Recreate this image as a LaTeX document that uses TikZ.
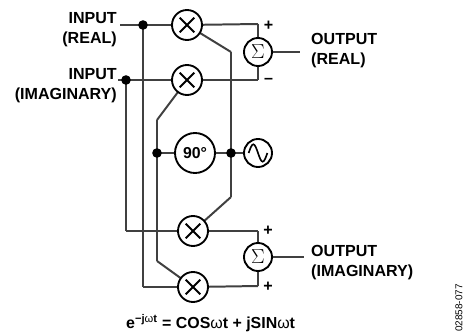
\documentclass[tikz,border=0pt]{standalone}
\usepackage{fontspec}
\usepackage{tikz}
\usepackage{tikz-network}
\setmainfont{Liberation Sans}
\newcommand{\sumsign}{\fontsize{17}{17}\selectfont$\Sigma$}
\tikzset{
	lbl/.style={font=\bfseries\fontsize{13.7}{17.3}\selectfont, align=center, inner sep=0pt},
	blob/.style={fill=white, draw=black, line width=1.6pt},
	mixer/.style={blob, path picture={\draw[line width=1.6pt] (path picture bounding box.center) ++(-0.22,-0.22) -- ++(0.44,0.44) ++(-0.44,0) -- ++(0.44,-0.44);}},
	wave/.style={blob, path picture={\draw[line width=1.4pt] (path picture bounding box.center) ++(-0.28,0) sin ++(0.14,0.26) cos ++(0.14,-0.26) sin ++(0.14,-0.26) cos ++(0.14,0.26);}}
}
\begin{document}
\begin{tikzpicture}
	\useasboundingbox (0,0) rectangle (13.95,9.93);

	\Vertex[x=5.61, y=9.18, size=0.90, style={mixer}]{m1}
	\Vertex[x=5.61, y=7.53, size=0.90, style={mixer}]{m2}
	\Vertex[x=5.79, y=3.00, size=0.90, style={mixer}]{m3}
	\Vertex[x=5.79, y=1.32, size=0.90, style={mixer}]{m4}
	\Vertex[label=\sumsign, x=7.74, y=8.37, size=0.84, style={blob}]{s1}
	\Vertex[label=\sumsign, x=7.74, y=2.22, size=0.84, style={blob}]{s2}
	\Vertex[x=7.74, y=5.34, size=0.84, style={wave}]{osc}
	\Vertex[label={\bfseries\fontsize{13.5}{14}\selectfont 90°}, x=5.85, y=5.34, size=1.20, style={blob}]{ph}

	\Vertex[x=4.29, y=9.18, size=0.25, color=black, style={draw=black}]{d1}
	\Vertex[x=3.78, y=7.53, size=0.25, color=black, style={draw=black}]{d2}
	\Vertex[x=4.71, y=5.34, size=0.25, color=black, style={draw=black}]{d3}
	\Vertex[x=6.93, y=5.34, size=0.25, color=black, style={draw=black}]{d4}

	\coordinate (inre) at (3.60,9.18);
	\coordinate (inim) at (3.54,7.53);
	\coordinate (c1) at (4.29,1.32);
	\coordinate (c2) at (3.78,3.00);
	\coordinate (c3) at (7.74,9.21);
	\coordinate (c4) at (7.74,7.53);
	\coordinate (c5) at (6.93,8.37);
	\coordinate (c6) at (6.93,4.02);
	\coordinate (c7) at (4.71,6.33);
	\coordinate (c8) at (4.71,2.10);
	\coordinate (c9) at (7.74,3.00);
	\coordinate (c10) at (7.74,1.35);
	\coordinate (outre) at (9.00,8.37);
	\coordinate (outim) at (9.12,2.22);

	\Edge[lw=1.7pt](inre)(m1)
	\Edge[lw=1.7pt](inim)(m2)
	\Edge[lw=1.7pt](d1)(c1)
	\Edge[lw=1.7pt](d2)(c2)
	\Edge[lw=1.7pt](c1)(m4)
	\Edge[lw=1.7pt](c2)(m3)
	\Edge[lw=1.7pt](m1)(c3)
	\Edge[lw=1.7pt](c3)(s1)
	\Edge[lw=1.7pt](m2)(c4)
	\Edge[lw=1.7pt](c4)(s1)
	\Edge[lw=1.7pt](m1)(c5)
	\Edge[lw=1.7pt](c5)(c6)
	\Edge[lw=1.7pt](c6)(m3)
	\Edge[lw=1.7pt](m2)(c7)
	\Edge[lw=1.7pt](c7)(c8)
	\Edge[lw=1.7pt](c8)(m4)
	\Edge[lw=1.7pt](m3)(c9)
	\Edge[lw=1.7pt](c9)(s2)
	\Edge[lw=1.7pt](m4)(c10)
	\Edge[lw=1.7pt](c10)(s2)
	\Edge[lw=1.7pt](s1)(outre)
	\Edge[lw=1.7pt](s2)(outim)
	\Edge[lw=1.7pt](d3)(ph)
	\Edge[lw=1.7pt](ph)(d4)
	\Edge[lw=1.7pt](d4)(osc)

	\node[lbl, anchor=east, align=right] (tinre) at (3.51,9.05) {INPUT\\(REAL)};
	\node[lbl, anchor=east, align=right] (tinim) at (3.51,7.37) {INPUT\\(IMAGINARY)};
	\node[lbl, anchor=west, align=left] (toutre) at (9.33,8.42) {OUTPUT\\(REAL)};
	\node[lbl, anchor=west, align=left] (toutim) at (9.33,2.05) {OUTPUT\\(IMAGINARY)};
	\node[lbl] (plus1) at (8.06,9.15) {+};
	\node[lbl] (minus1) at (8.06,7.50) {--};
	\node[lbl] (plus2) at (8.04,3.00) {+};
	\node[lbl] (plus3) at (8.04,1.32) {+};
	\node[lbl, anchor=west, font=\bfseries\fontsize{13.6}{15}\selectfont] (eq) at (3.78,0.24) {e\textsuperscript{−j{\mdseries ω}t} = COS{\mdseries ω}t + jSIN{\mdseries ω}t};
	\node[rotate=90, anchor=west, inner sep=0pt, font=\fontsize{8.5}{10}\selectfont] (code) at (13.77,-0.03) {02858-077};
\end{tikzpicture}
\end{document}
